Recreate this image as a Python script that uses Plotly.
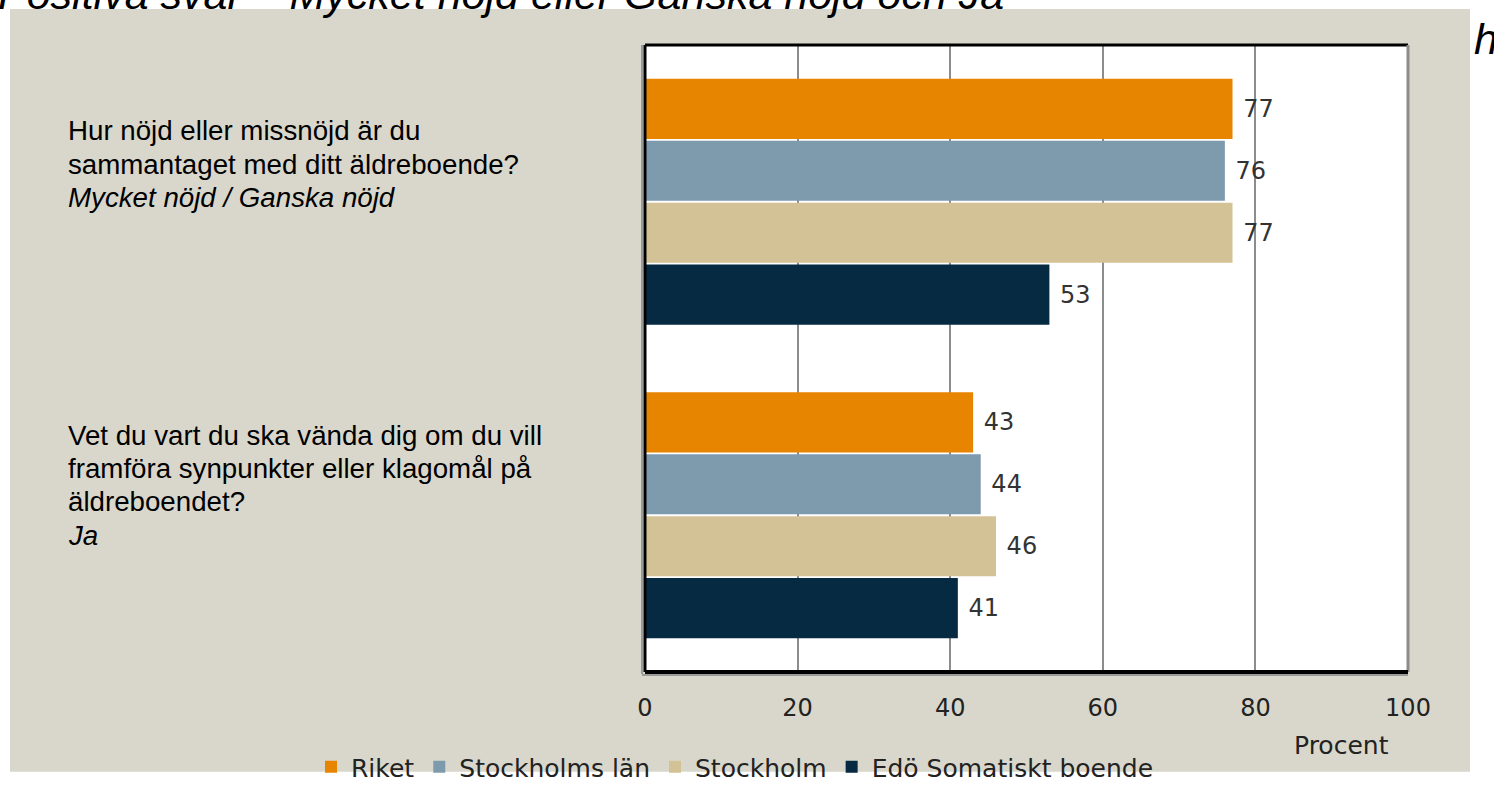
import plotly.graph_objects as go

# ---- data ----
questions = ["q1", "q2"]
question_lines = [
    ["Hur nöjd eller missnöjd är du", "sammantaget med ditt äldreboende?", "<i>Mycket nöjd / Ganska nöjd</i>"],
    ["Vet du vart du ska vända dig om du vill", "framföra synpunkter eller klagomål på", "äldreboendet?", "<i>Ja</i>"],
]
series_names = ["Riket", "Stockholms län", "Stockholm", "Edö Somatiskt boende"]
riket = [77, 43]
stockholms_lan = [76, 44]
stockholm = [77, 46]
edo = [53, 41]
series_values = [riket, stockholms_lan, stockholm, edo]
series_colors = ["#e88500", "#7e9bae", "#d4c297", "#062a42"]
tick_vals = [0, 20, 40, 60, 80, 100]
tick_text = ["0", "20", "40", "60", "80", "100"]

W, H = 1494, 801
L, R, T, B = 645, 1408, 45, 673
pw, ph = R - L, B - T


def px(x):
    return (x - L) / pw


def py(y):
    return (B - y) / ph


fig = go.Figure()
for name, vals, col in zip(series_names, series_values, series_colors):
    fig.add_trace(go.Bar(
        y=questions, x=vals, name=name, orientation="h",
        marker=dict(color=col, line=dict(width=0)),
        text=["\u00a0" + str(v) for v in vals],
        textposition="outside", cliponaxis=False,
        textfont=dict(family="DejaVu Sans", size=24, color="#333333"),
    ))

shapes = [
    # beige panel
    dict(type="rect", xref="paper", yref="paper", x0=px(10), x1=px(1470), y0=py(773), y1=py(9),
         fillcolor="#d9d7cb", line=dict(width=0), layer="below"),
    # white plot area
    dict(type="rect", xref="paper", yref="paper", x0=0, x1=1, y0=0, y1=1,
         fillcolor="#ffffff", line=dict(width=0), layer="below"),
    # soft shadow lines
    dict(type="line", xref="paper", yref="paper", x0=px(642), x1=px(642), y0=py(675), y1=1,
         line=dict(color="#9a9a9a", width=2), layer="above"),
    dict(type="line", xref="paper", yref="paper", x0=px(642), x1=1, y0=py(676), y1=py(676),
         line=dict(color="#9a9a9a", width=2), layer="above"),
    # plot border
    dict(type="line", xref="paper", yref="paper", x0=0, x1=1, y0=1, y1=1,
         line=dict(color="#000000", width=3), layer="above"),
    dict(type="line", xref="paper", yref="paper", x0=1, x1=1, y0=0, y1=1,
         line=dict(color="#8c8c8c", width=3), layer="above"),
    dict(type="line", xref="paper", yref="paper", x0=0, x1=0, y0=0, y1=1,
         line=dict(color="#000000", width=3), layer="above"),
    dict(type="line", xref="paper", yref="paper", x0=0, x1=1, y0=0, y1=0,
         line=dict(color="#000000", width=4), layer="above"),
]

annotations = [
    dict(text="<i>Positiva svar – Mycket nöjd eller Ganska nöjd och Ja</i>", xref="paper", yref="paper",
         x=px(-4), y=py(20), xanchor="left", yanchor="bottom", showarrow=False,
         font=dict(family="Liberation Sans", size=43, color="#000000")),
    dict(text="<i>h</i>", xref="paper", yref="paper",
         x=px(1472), y=py(65), xanchor="left", yanchor="bottom", showarrow=False,
         font=dict(family="Liberation Sans", size=43, color="#000000")),
    dict(text="Procent", xref="paper", yref="paper",
         x=px(1341), y=py(747), xanchor="center", yanchor="middle", showarrow=False,
         font=dict(family="DejaVu Sans", size=25, color="#222222")),
]
first_line_centers = [131, 436]
line_step = 33.3
for lines, y0 in zip(question_lines, first_line_centers):
    for i, ln in enumerate(lines):
        annotations.append(dict(
            text=ln, xref="paper", yref="paper", x=px(66), y=py(y0 + i * line_step),
            xanchor="left", yanchor="middle", align="left", showarrow=False,
            font=dict(family="Liberation Sans", size=27.7, color="#000000")))

fig.update_layout(
    width=W, height=H,
    margin=dict(l=L, r=W - R, t=T, b=H - B, pad=0),
    paper_bgcolor="#ffffff", plot_bgcolor="#ffffff",
    barmode="group", bargap=0.21, bargroupgap=0.03,
    showlegend=True,
    legend=dict(orientation="h", x=px(311), y=py(767), xanchor="left", yanchor="middle",
                font=dict(family="DejaVu Sans", size=25, color="#222222"),
                bgcolor="rgba(0,0,0,0)", itemwidth=30, traceorder="normal"),
    xaxis=dict(range=[0, 100], tickvals=tick_vals, ticktext=tick_text,
               showgrid=True, gridcolor="#8c8c8c", gridwidth=2, zeroline=False,
               showline=False, ticks="outside", ticklen=14, tickcolor="rgba(0,0,0,0)",
               tickfont=dict(family="DejaVu Sans", size=24, color="#222222"), fixedrange=True),
    yaxis=dict(autorange="reversed", showticklabels=False, showgrid=False, zeroline=False,
               showline=False, ticks="", fixedrange=True),
    shapes=shapes, annotations=annotations,
)

fig.write_html("out.html", config={"displayModeBar": False},
               post_script="document.body.style.margin='0';document.body.style.overflow='hidden';")
